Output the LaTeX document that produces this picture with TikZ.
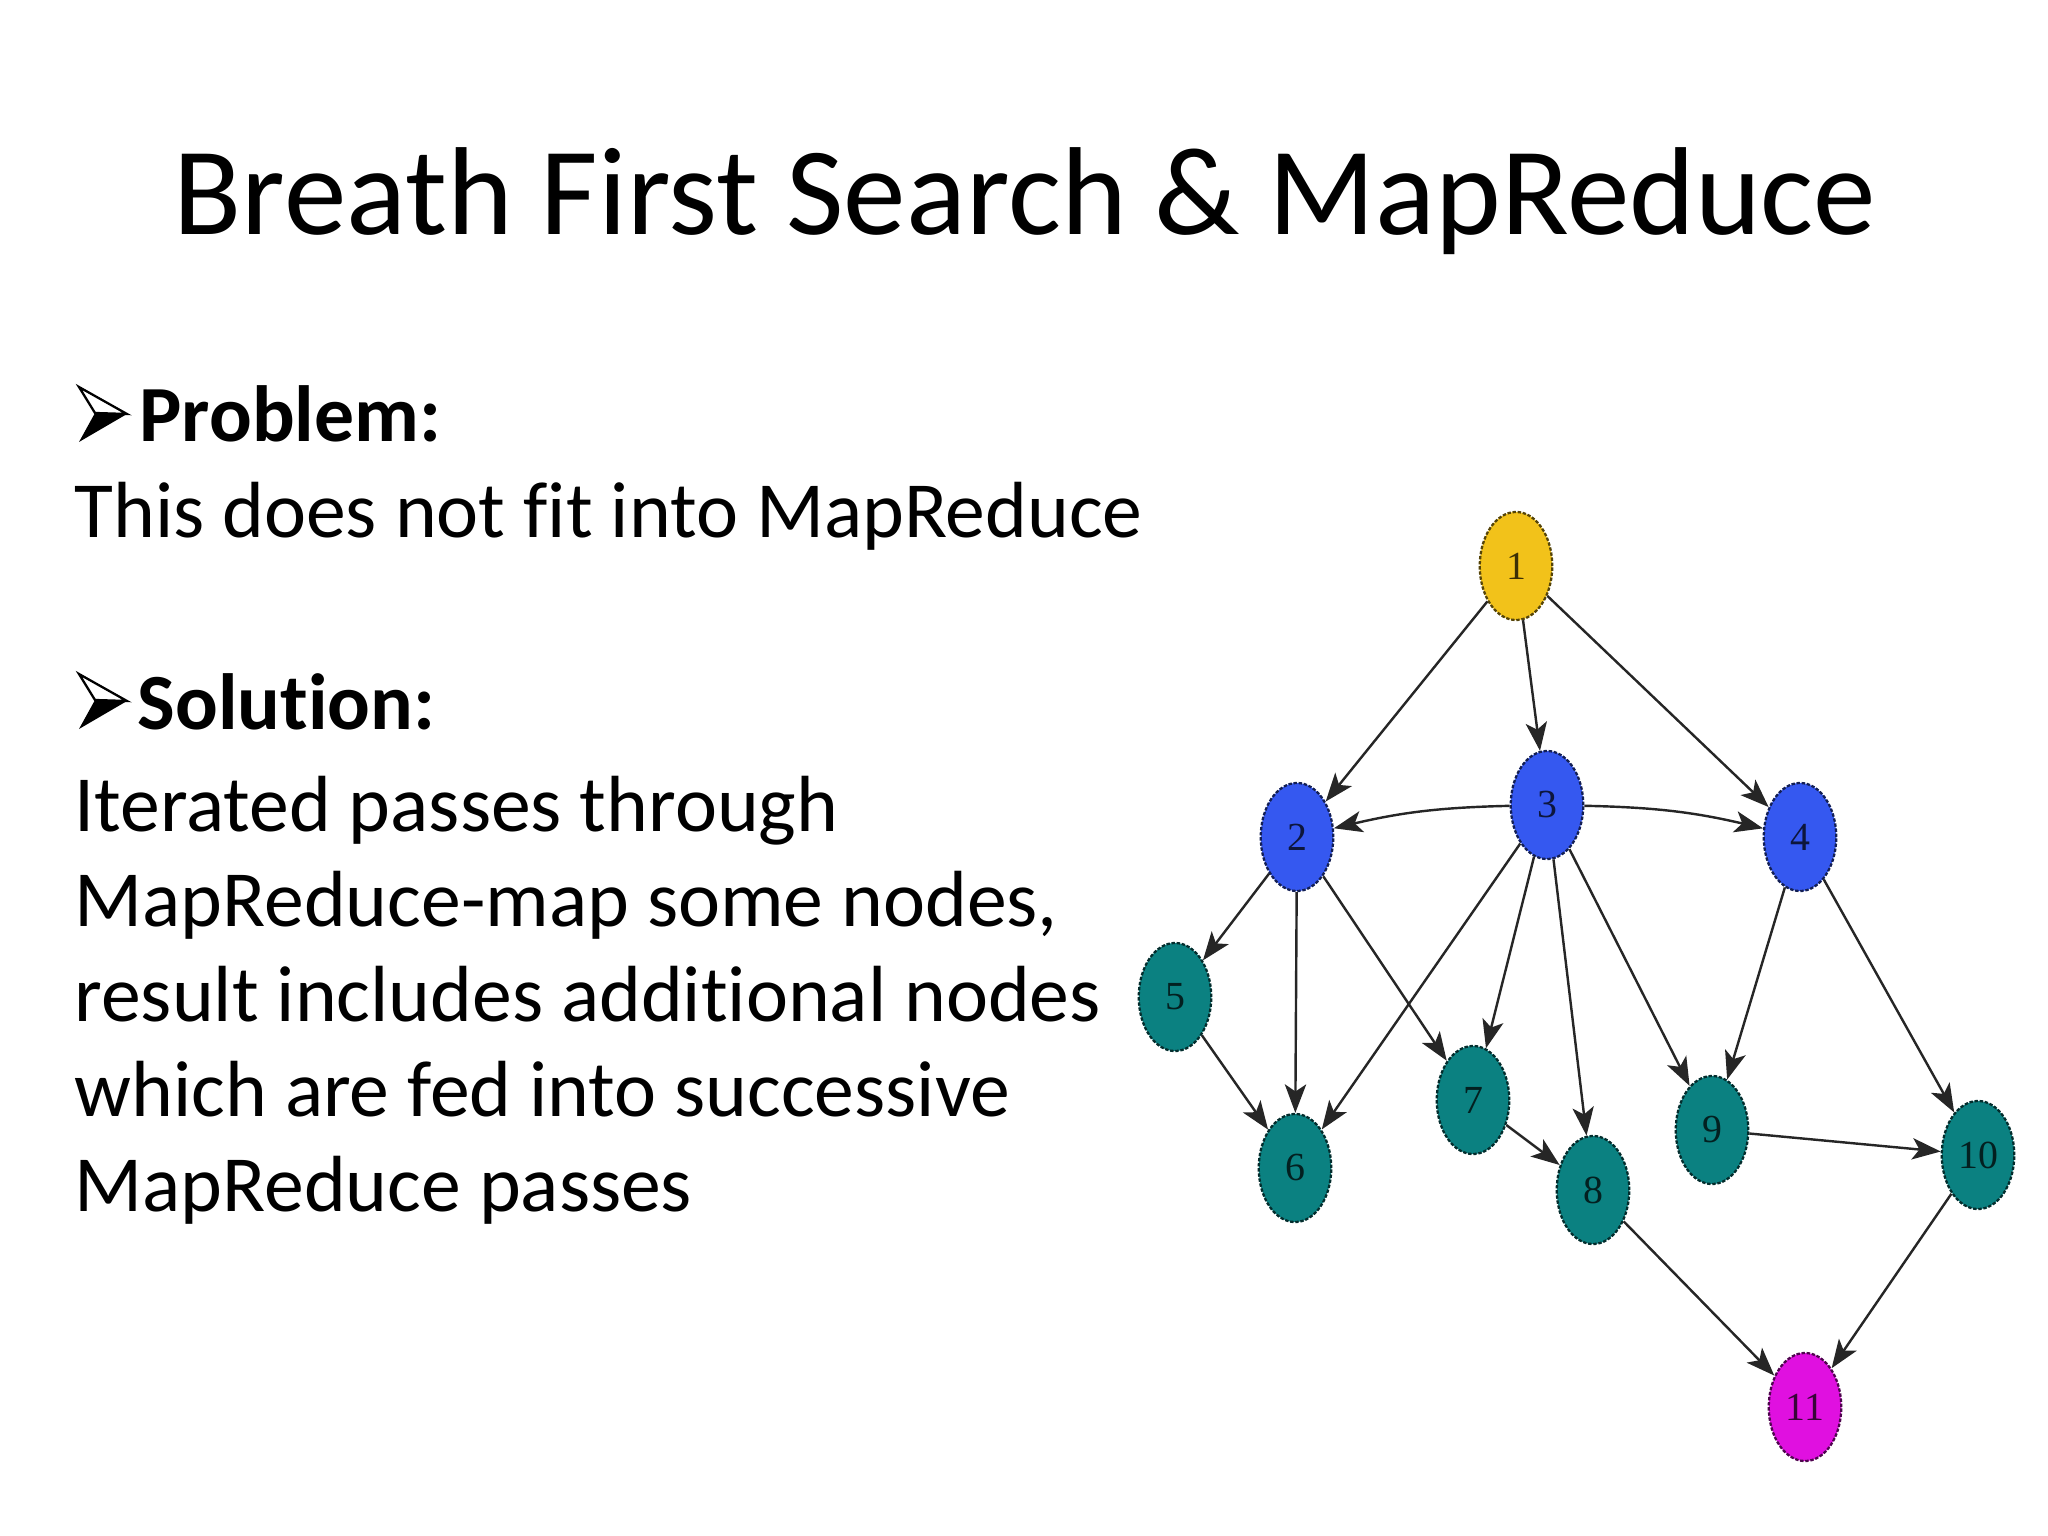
\documentclass[tikz,border=0pt]{standalone}
\usepackage{fontspec}
\setmainfont[Ligatures=NoCommon]{Carlito}
\newfontfamily\labelfont{Liberation Serif}
\usetikzlibrary{shapes.geometric,arrows.meta}
\definecolor{ngold}{HTML}{F2C21A}
\definecolor{nblue}{HTML}{3558F0}
\definecolor{nteal}{HTML}{0B8181}
\definecolor{nmag}{HTML}{E010E0}
\begin{document}
\begin{tikzpicture}[x=0.3515625pt,y=-0.3515625pt,
  gnode/.style={ellipse, minimum width=25.5pt, minimum height=38pt, inner sep=0pt,
    fill=#1, draw=#1!35!black, line width=0.8pt, dash pattern=on 1.2pt off 0.6pt,
    text=#1!25!black, font=\labelfont\fontsize{14}{14}\selectfont},
  link/.style={draw=black!85, line width=0.85pt,
    -{Stealth[length=10pt,width=7.5pt,inset=2.5pt]}},
  body/.style={anchor=base west, inner sep=0pt, font=\fontsize{28}{34}\selectfont},
  bodybf/.style={body, font=\fontsize{28}{34}\selectfont\bfseries}]
\useasboundingbox (0,0) rectangle (2048,1536);

% title
\node[anchor=base, inner sep=0pt, font=\fontsize{44}{53}\selectfont] (title) at (1025,235) {Breath First Search \& MapReduce};

% bullets
\foreach \yb in {442, 729} {
  \fill[black] (95,\yb-29) -- (127,\yb-28) -- (79,\yb) -- cycle;
  \draw[line width=0.8pt, fill=white, line join=miter] (79,\yb-55) -- (127,\yb-28) -- (95,\yb-29) -- cycle;
}

% text
\node[bodybf] (prob) at (139,442) {Problem:};
\node[body] (t1) at (74,538) {This does not fit into MapReduce};
\node[bodybf] (sol) at (137,729) {Solution:};
\node[body] (t2) at (74,831) {Iterated passes through};
\node[body] (t3) at (74,926) {MapReduce-map some nodes,};
\node[body] (t4) at (74,1021) {result includes additional nodes};
\node[body] (t5) at (74,1116) {which are fed into successive};
\node[body] (t6) at (74,1211) {MapReduce passes};

% graph nodes
\node[gnode=ngold] (n1) at (1516,566) {1};
\node[gnode=nblue] (n2) at (1297,837) {2};
\node[gnode=nblue] (n3) at (1547,805) {3};
\node[gnode=nblue] (n4) at (1800,837) {4};
\node[gnode=nteal] (n5) at (1175,997) {5};
\node[gnode=nteal] (n6) at (1295,1168) {6};
\node[gnode=nteal] (n7) at (1473,1100) {7};
\node[gnode=nteal] (n8) at (1593,1190) {8};
\node[gnode=nteal] (n9) at (1712,1130) {9};
\node[gnode=nteal] (n10) at (1978,1155) {10};
\node[gnode=nmag] (n11) at (1805,1407) {11};

% edges
\draw[link] (n1) -- (n2);
\draw[link] (n1) -- (n3);
\draw[link] (n1) -- (n4);
\draw[link] (n3) to[bend right=6] (n2);
\draw[link] (n3) to[bend left=6] (n4);
\draw[link] (n2) -- (n5);
\draw[link] (n2) -- (n6);
\draw[link] (n2) -- (n7);
\draw[link] (n3) -- (n6);
\draw[link] (n3) -- (n7);
\draw[link] (n3) -- (n8);
\draw[link] (n3) -- (n9);
\draw[link] (n4) -- (n9);
\draw[link] (n4) -- (n10);
\draw[link] (n5) -- (n6);
\draw[link] (n7) -- (n8);
\draw[link] (n9) -- (n10);
\draw[link] (n8) -- (n11);
\draw[link] (n10) -- (n11);
\end{tikzpicture}
\end{document}
